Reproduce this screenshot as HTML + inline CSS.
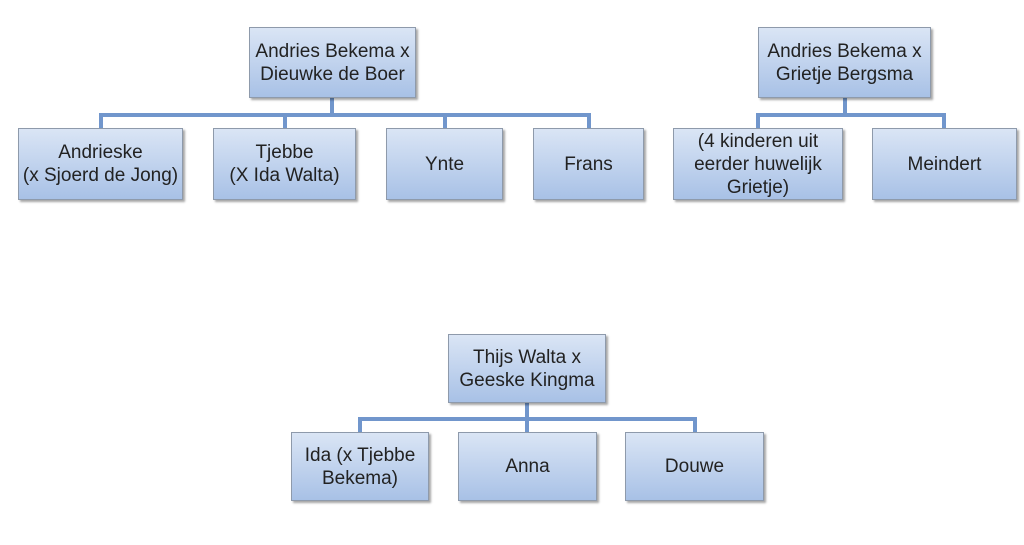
<!DOCTYPE html>
<html><head><style>
body{margin:0;width:1024px;height:545px;background:#fff;position:relative;overflow:hidden;font-family:"Liberation Sans",sans-serif}
.b{position:absolute;box-sizing:border-box;border:1px solid #8e9aab;background:linear-gradient(#dae5f5,#a8c1e6);box-shadow:2px 2px 2px rgba(0,0,0,.35);display:flex;align-items:center;justify-content:center;text-align:center;font-size:19px;line-height:23px;color:#222;white-space:nowrap}
.l{position:absolute;background:#7196cc}
</style></head><body>
<div class="l" style="left:330px;top:98px;width:4px;height:19px"></div>
<div class="l" style="left:99px;top:113px;width:348px;height:4px"></div>
<div class="l" style="left:99px;top:113px;width:4px;height:15px"></div>
<div class="l" style="left:283px;top:113px;width:4px;height:15px"></div>
<div class="l" style="left:443px;top:113px;width:4px;height:15px"></div>
<div class="l" style="left:445px;top:113px;width:145px;height:4px"></div>
<div class="l" style="left:587px;top:113px;width:4px;height:15px"></div>

<div class="l" style="left:843px;top:98px;width:4px;height:19px"></div>
<div class="l" style="left:756px;top:113px;width:190px;height:4px"></div>
<div class="l" style="left:756px;top:113px;width:4px;height:15px"></div>
<div class="l" style="left:942px;top:113px;width:4px;height:15px"></div>

<div class="l" style="left:525px;top:403px;width:4px;height:18px"></div>
<div class="l" style="left:358px;top:417px;width:339px;height:4px"></div>
<div class="l" style="left:358px;top:417px;width:4px;height:15px"></div>
<div class="l" style="left:525px;top:417px;width:4px;height:15px"></div>
<div class="l" style="left:693px;top:417px;width:4px;height:15px"></div>

<div class="b" style="left:249px;top:27px;width:167px;height:71px">Andries Bekema x<br>Dieuwke de Boer</div>
<div class="b" style="left:18px;top:128px;width:165px;height:72px">Andrieske<br>(x Sjoerd de Jong)</div>
<div class="b" style="left:213px;top:128px;width:143px;height:72px">Tjebbe<br>(X Ida Walta)</div>
<div class="b" style="left:386px;top:128px;width:117px;height:72px">Ynte</div>
<div class="b" style="left:533px;top:128px;width:111px;height:72px">Frans</div>

<div class="b" style="left:758px;top:27px;width:173px;height:71px">Andries Bekema x<br>Grietje Bergsma</div>
<div class="b" style="left:673px;top:128px;width:170px;height:72px">(4 kinderen uit<br>eerder huwelijk<br>Grietje)</div>
<div class="b" style="left:872px;top:128px;width:145px;height:72px">Meindert</div>

<div class="b" style="left:448px;top:334px;width:158px;height:69px">Thijs Walta x<br>Geeske Kingma</div>
<div class="b" style="left:291px;top:432px;width:138px;height:69px">Ida (x Tjebbe<br>Bekema)</div>
<div class="b" style="left:458px;top:432px;width:139px;height:69px">Anna</div>
<div class="b" style="left:625px;top:432px;width:139px;height:69px">Douwe</div>
</body></html>
